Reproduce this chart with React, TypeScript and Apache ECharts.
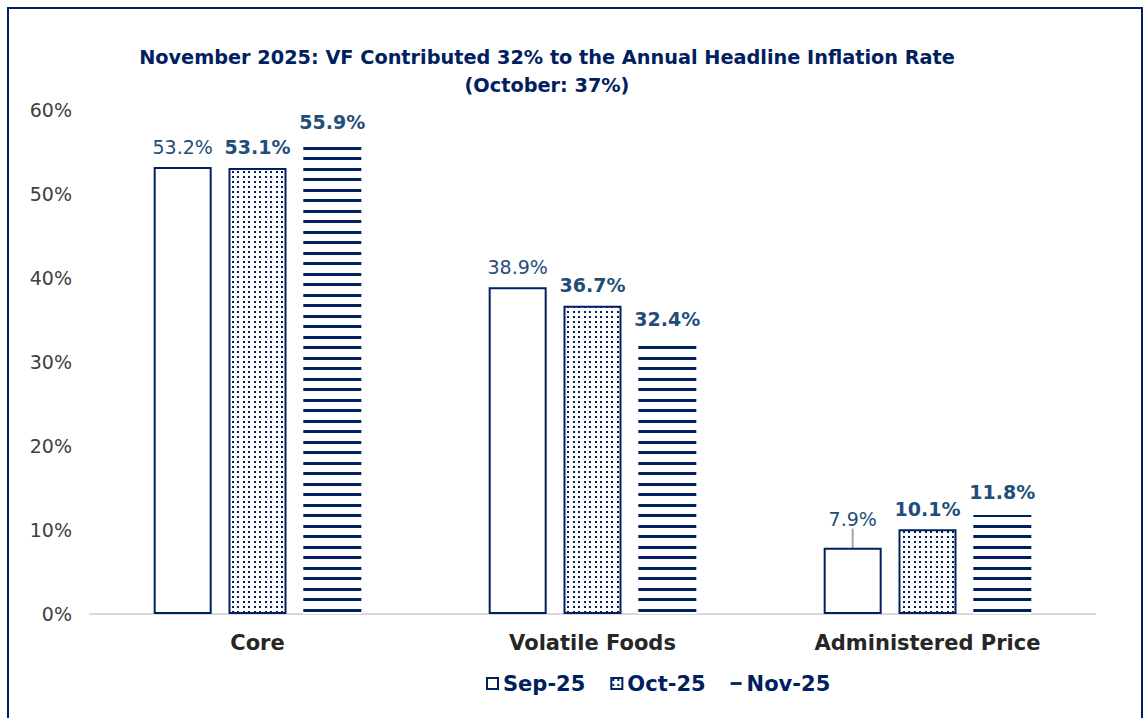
import React, { useEffect, useRef } from "react";
import * as echarts from "echarts";

const categories = ["Core", "Volatile Foods", "Administered Price"];
const seriesNames = ["Sep-25", "Oct-25", "Nov-25"];
const sep25 = [53.2, 38.9, 7.9];
const oct25 = [53.1, 36.7, 10.1];
const nov25 = [55.9, 32.4, 11.8];
const titleLines = [
  "November 2025: VF Contributed 32% to the Annual Headline Inflation Rate",
  "(October: 37%)",
];

const NAVY = "#002060";
const LABEL = "#1F4E79";
const FONT = 'Verdana, "DejaVu Sans", sans-serif';

function makeDots(): HTMLCanvasElement {
  const c = document.createElement("canvas");
  c.width = 11;
  c.height = 10;
  const ctx = c.getContext("2d")!;
  ctx.fillStyle = "#ffffff";
  ctx.fillRect(0, 0, 11, 10);
  ctx.fillStyle = NAVY;
  [[1, 1], [6, 1], [1, 6], [6, 6]].forEach(([x, y]) => ctx.fillRect(x, y, 2, 2));
  return c;
}

function makeStripes(): HTMLCanvasElement {
  const c = document.createElement("canvas");
  c.width = 8;
  c.height = 21;
  const ctx = c.getContext("2d")!;
  ctx.fillStyle = "#ffffff";
  ctx.fillRect(0, 0, 8, 21);
  ctx.fillStyle = NAVY;
  ctx.fillRect(0, 0, 8, 3);
  ctx.fillRect(0, 10, 8, 3);
  return c;
}

export default function App() {
  const ref = useRef<HTMLDivElement>(null);
  useEffect(() => {
    if (!ref.current) return;
    const chart = echarts.init(ref.current, undefined, { renderer: "svg" });
    const dots = { image: makeDots(), repeat: "repeat" };
    const stripes = { image: makeStripes(), repeat: "repeat" };
    const baseLabel = {
      show: true,
      position: "top",
      distance: 11,
      color: LABEL,
      fontFamily: FONT,
      fontSize: 19,
      formatter: (p: any) => p.value.toFixed(1) + "%",
    };
    const option: any = {
      animation: false,
      backgroundColor: "#ffffff",
      textStyle: { fontFamily: FONT },
      title: {
        text: titleLines.join("\n"),
        left: 542,
        textAlign: "center",
        top: 38,
        textStyle: {
          fontFamily: FONT,
          fontSize: 19.3,
          fontWeight: "bold",
          color: NAVY,
          lineHeight: 28,
        },
      },
      legend: {
        left: 481,
        top: 668,
        itemWidth: 11,
        itemHeight: 11,
        itemGap: 25,
        textStyle: { fontFamily: FONT, fontSize: 21, fontWeight: "bold", color: NAVY },
        data: [
          { name: seriesNames[0], icon: "rect", itemStyle: { color: "#fff", borderColor: NAVY, borderWidth: 2 } },
          { name: seriesNames[1], icon: "rect", itemStyle: { borderColor: NAVY, borderWidth: 2 } },
          { name: seriesNames[2], icon: "path://M0,0H12V3H0Z", itemStyle: { color: NAVY, borderWidth: 0 } },
        ],
      },
      grid: { left: 90, right: 49, top: 110, bottom: 104, containLabel: false },
      xAxis: {
        type: "category",
        data: categories,
        axisLine: { lineStyle: { color: "#d9d9d9", width: 2 } },
        axisTick: { show: false },
        axisLabel: { margin: 18, fontFamily: FONT, fontSize: 21, fontWeight: "bold", color: "#262626" },
      },
      yAxis: {
        type: "value",
        min: 0,
        max: 60,
        interval: 10,
        axisLine: { show: false },
        axisTick: { show: false },
        splitLine: { show: false },
        axisLabel: { margin: 18, fontFamily: FONT, fontSize: 19, color: "#404040", formatter: "{value}%" },
      },
      graphic: [
        {
          type: "rect",
          shape: { x: 8, y: 8, width: 1134, height: 740 },
          style: { fill: "none", stroke: NAVY, lineWidth: 2 },
          silent: true,
          z: 100,
        },
      ],
      series: [
        {
          name: seriesNames[0],
          type: "bar",
          barWidth: 58,
          barGap: "29%",
          data: sep25.map((v, i) =>
            i === 2
              ? { value: v, labelLine: { show: true, lineStyle: { color: "#a6a6a6", width: 2 } } }
              : v
          ),
          itemStyle: { color: "#ffffff", borderColor: NAVY, borderWidth: 2 },
          label: { ...baseLabel, fontWeight: "normal" },
          labelLayout: (p: any) => (p.dataIndex === 2 ? { dy: -8 } : {}),
        },
        {
          name: seriesNames[1],
          type: "bar",
          barWidth: 58,
          barGap: "29%",
          data: oct25,
          itemStyle: { color: dots, borderColor: NAVY, borderWidth: 2 },
          label: { ...baseLabel, fontWeight: "bold" },
        },
        {
          name: seriesNames[2],
          type: "bar",
          barWidth: 58,
          barGap: "29%",
          data: nov25,
          itemStyle: { color: stripes, borderWidth: 0 },
          label: { ...baseLabel, fontWeight: "bold", distance: 13 },
        },
      ],
    };
    chart.setOption(option);
    return () => chart.dispose();
  }, []);
  return (
    <div style={{ position: "fixed", left: 0, top: 0, width: 1144, height: 718, background: "#fff" }}>
      <div ref={ref} style={{ width: 1144, height: 718 }} />
    </div>
  );
}
